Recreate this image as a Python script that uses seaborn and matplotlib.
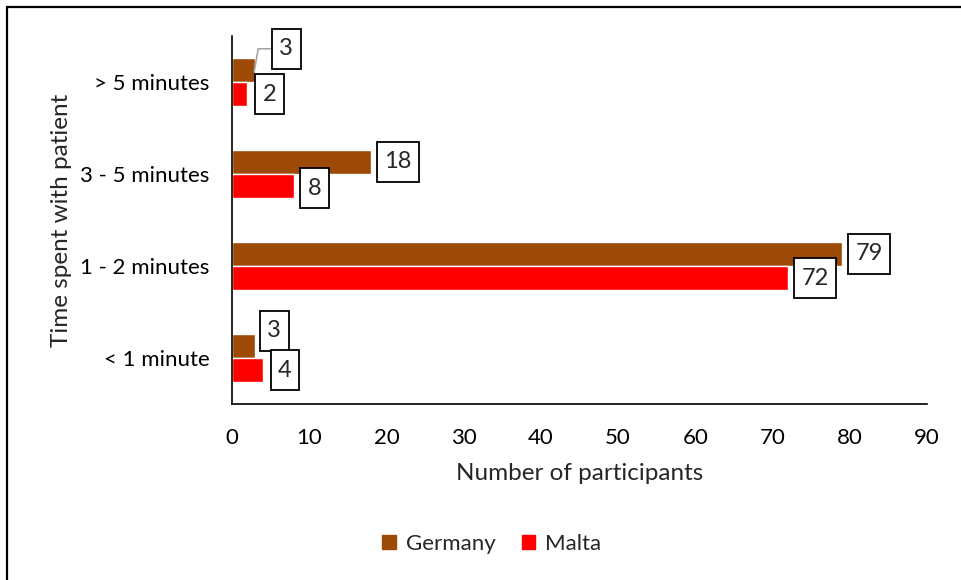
import matplotlib
matplotlib.use("Agg")
import matplotlib.pyplot as plt
import seaborn as sns
import pandas as pd
from matplotlib.patches import Rectangle
from matplotlib.lines import Line2D
from matplotlib.path import Path

# Survey responses: time spent with patient, by country
categories = ["> 5 minutes", "3 - 5 minutes", "1 - 2 minutes", "< 1 minute"]
germany = [3, 18, 79, 3]
malta = [2, 8, 72, 4]
countries = ["Germany", "Malta"]
x_ticks = [0, 10, 20, 30, 40, 50, 60, 70, 80, 90]

df = pd.DataFrame({
    "category": categories * 2,
    "country": ["Germany"] * len(categories) + ["Malta"] * len(categories),
    "value": germany + malta,
})

sns.set_theme(style="white")
plt.rcParams["font.family"] = ["Lato", "DejaVu Sans"]

palette = {"Germany": "#9C4A06", "Malta": "#FF0000"}

fig = plt.figure(figsize=(9.61, 5.80), dpi=100)
ax = fig.add_axes([232 / 961, 1 - 404 / 580, (927 - 232) / 961, (404 - 36) / 580])

sns.barplot(data=df, y="category", x="value", hue="country", order=categories,
            hue_order=countries, palette=palette, orient="h", width=0.53,
            saturation=1, ax=ax, legend=False)

ax.set_xlim(0, 90)
ax.set_xticks(x_ticks)
ax.set_ylim(3.5, -0.5)
ax.set_xlabel("Number of participants", fontsize=17.5, va="center")
ax.set_ylabel("Time spent with patient", fontsize=17.5, va="center")
ax.xaxis.set_label_coords(0.5, (404 - 473) / 368)
ax.yaxis.set_label_coords((62 - 232) / 695, 0.5)
ax.tick_params(axis="y", length=0, labelsize=16, pad=16, colors="black")
ax.tick_params(axis="x", length=0, labelsize=16, pad=17, colors="black")
for side in ["top", "right"]:
    ax.spines[side].set_visible(False)
for side in ["left", "bottom"]:
    ax.spines[side].set_color("black")
    ax.spines[side].set_linewidth(1.2)


def label_box(x0, y0, width, height, mutation_size):
    """Square label frame, padded more vertically than horizontally."""
    px, py = 0.32 * mutation_size, 0.39 * mutation_size
    x0, y0 = x0 - px, y0 - py
    x1, y1 = x0 + width + 2 * px, y0 + height + 2 * py
    return Path([(x0, y0), (x1, y0), (x1, y1), (x0, y1), (x0, y0)], closed=True)


# Data labels in boxes; offsets in pixels from each bar's end
offsets = {
    "Germany": [(31, 21), (27, 0), (27, 0), (19, 15)],
    "Malta": [(22, 0), (21, -2), (27, 0), (22, 0)],
}
box = dict(boxstyle=label_box, fc="white", ec="black", lw=1.3)
for country, container in zip(countries, ax.containers):
    for bar, (dx, dy) in zip(container.patches, offsets[country]):
        val = bar.get_width()
        yc = bar.get_y() + bar.get_height() / 2
        ax.annotate(f"{val:g}", xy=(val, yc), xytext=(dx * 0.72, dy * 0.72),
                    textcoords="offset points", ha="center", va="center",
                    fontsize=17, bbox=box, zorder=5)

# Leader line for the crowded top label
g_bar = ax.containers[0].patches[0]
x0 = g_bar.get_width()
y0 = g_bar.get_y() + g_bar.get_height() / 2
disp = ax.transData.transform((x0, y0))
pts = [(disp[0] - 1, disp[1] - 2), (disp[0] + 3, disp[1] + 21), (disp[0] + 15, disp[1] + 21)]
inv = ax.transData.inverted()
pts_d = [inv.transform(p) for p in pts]
ax.add_line(Line2D([p[0] for p in pts_d], [p[1] for p in pts_d], color="#A6A6A6",
                   lw=1.2, zorder=4, clip_on=False))

# Legend below the axis title
handles = [Rectangle((0, 0), 1, 1, color=palette[c]) for c in countries]
fig.legend(handles, countries, loc="center", bbox_to_anchor=(492 / 961, 1 - 544 / 580),
           ncol=2, frameon=False, fontsize=16, handlelength=0.6, handleheight=0.6,
           handletextpad=0.45, columnspacing=1.2)

# Outer frame
fig.patches.append(Rectangle((7 / 961, -0.1), 1.2, 1 - 7 / 580 + 0.1,
                             transform=fig.transFigure, fill=False, ec="black",
                             lw=1.6, zorder=10))

fig.savefig("out.png", dpi=100)
